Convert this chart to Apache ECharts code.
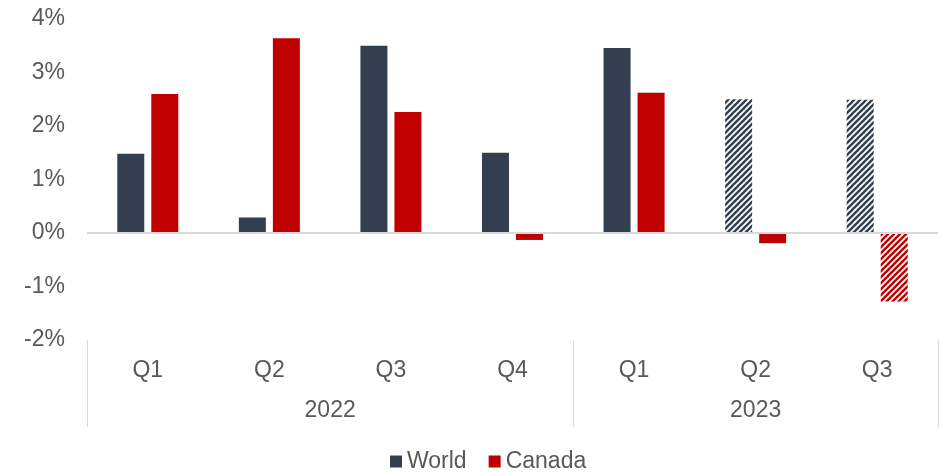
<!DOCTYPE html>
<html>
<head>
<meta charset="utf-8">
<script src="https://cdn.jsdelivr.net/npm/echarts@6/dist/echarts.min.js"></script>
<style>
  html, body { margin: 0; padding: 0; background: #fff; }
  #chart { width: 940px; height: 473px; }
</style>
</head>
<body>
<div id="chart"></div>
<script>
// Quarterly growth, %; last quarters are forecasts (hatched)
const quarters = ['Q1', 'Q2', 'Q3', 'Q4', 'Q1', 'Q2', 'Q3'];
const years = ['2022', '2023'];
const quartersPerYear = [4, 3];
const world = [1.48, 0.29, 3.50, 1.50, 3.46, 2.50, 2.49];
const canada = [2.60, 3.64, 2.26, -0.13, 2.62, -0.19, -1.28];
const worldForecast = [false, false, false, false, false, true, true];
const canadaForecast = [false, false, false, false, false, false, true];
const yTicks = [-2, -1, 0, 1, 2, 3, 4];

const WORLD_COLOR = '#333f50';
const CANADA_COLOR = '#c00000';
const TEXT_COLOR = '#595959';
const LINE_COLOR = '#d9d9d9';
const FONT = 'Liberation Sans, Arial, sans-serif';
const FONT_SIZE = 23;

// Diagonal stripe tile for forecast bars
function stripes(color) {
  const s = 6;
  const c = document.createElement('canvas');
  c.width = s; c.height = s;
  const g = c.getContext('2d');
  g.fillStyle = '#ffffff';
  g.fillRect(0, 0, s, s);
  g.strokeStyle = color;
  g.lineWidth = 2.4;
  for (let k = -1; k <= 1; k++) {
    g.beginPath();
    g.moveTo(k * s - 1, s + 1);
    g.lineTo(k * s + s + 1, -1);
    g.stroke();
  }
  return { image: c, repeat: 'repeat' };
}

function barData(values, flags, color) {
  const pattern = stripes(color);
  return values.map((v, i) => ({
    value: v,
    itemStyle: { color: flags[i] ? pattern : color }
  }));
}

// Year band boundaries and centres along the quarter scale
const bounds = [0];
quartersPerYear.forEach(n => bounds.push(bounds[bounds.length - 1] + n));
const yearCentres = years.map((_, i) => (bounds[i] + bounds[i + 1]) / 2);

const chart = echarts.init(document.getElementById('chart'), null, { renderer: 'canvas' });
chart.setOption({
  animation: false,
  textStyle: { fontFamily: FONT },
  grid: { left: 87, right: 2, top: 19, bottom: 133, containLabel: false },
  legend: {
    top: 445,
    left: 385,
    icon: 'rect',
    itemWidth: 12,
    itemHeight: 12,
    itemGap: 22,
    textStyle: { color: TEXT_COLOR, fontSize: FONT_SIZE, fontFamily: FONT },
    data: ['World', 'Canada']
  },
  xAxis: [
    {
      type: 'category',
      data: quarters,
      position: 'bottom',
      axisLine: { show: false },
      axisTick: { show: false },
      axisLabel: { color: TEXT_COLOR, fontSize: FONT_SIZE, margin: 19, fontFamily: FONT, interval: 0 }
    },
    {
      type: 'value',
      min: 0,
      max: bounds[bounds.length - 1],
      position: 'bottom',
      axisLine: { show: false },
      splitLine: { show: false },
      axisTick: {
        show: true,
        customValues: bounds,
        length: 87,
        lineStyle: { color: LINE_COLOR, width: 1 }
      },
      axisLabel: {
        customValues: yearCentres,
        formatter: v => years[yearCentres.indexOf(v)] || '',
        color: TEXT_COLOR,
        fontSize: FONT_SIZE,
        margin: 59,
        fontFamily: FONT
      }
    }
  ],
  yAxis: {
    type: 'value',
    min: yTicks[0],
    max: yTicks[yTicks.length - 1],
    interval: 1,
    axisLine: { show: false },
    axisTick: { show: false },
    splitLine: { show: false },
    axisLabel: {
      color: TEXT_COLOR,
      fontSize: FONT_SIZE,
      margin: 22,
      fontFamily: FONT,
      formatter: '{value}%'
    }
  },
  series: [
    {
      name: 'World',
      type: 'bar',
      xAxisIndex: 0,
      barWidth: 27,
      barGap: '26%',
      itemStyle: { color: WORLD_COLOR },
      data: barData(world, worldForecast, WORLD_COLOR),
      // zero baseline
      markLine: {
        silent: true,
        symbol: 'none',
        label: { show: false },
        lineStyle: { color: LINE_COLOR, width: 2, type: 'solid' },
        data: [{ yAxis: 0 }]
      }
    },
    {
      name: 'Canada',
      type: 'bar',
      xAxisIndex: 0,
      barWidth: 27,
      barGap: '26%',
      itemStyle: { color: CANADA_COLOR },
      data: barData(canada, canadaForecast, CANADA_COLOR)
    }
  ]
});
</script>
</body>
</html>
